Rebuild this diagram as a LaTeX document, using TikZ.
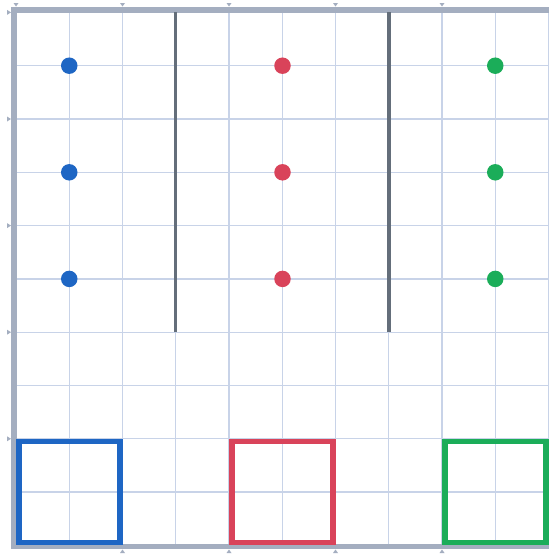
\documentclass[tikz,border=0pt]{standalone}
\usetikzlibrary{calc}
\definecolor{gridC}{HTML}{C8D3E8}
\definecolor{frameC}{HTML}{A4AEC0}
\definecolor{wallC}{HTML}{646E7A}
\definecolor{blueC}{HTML}{1E66C4}
\definecolor{redC}{HTML}{D9435A}
\definecolor{greenC}{HTML}{1BAD59}
\tikzset{
  gridline/.style={draw=gridC, line width=1.3pt},
  framebar/.style={draw=frameC, line width=6pt},
  tickmark/.style={fill=frameC, draw=none},
  wall/.style={draw=wallC, line width=3.3pt},
  dot/.style={circle, minimum size=16.5pt, inner sep=0pt, draw=none},
  goalbox/.style={line width=5.5pt}
}
\begin{document}
\begin{tikzpicture}[x=1pt,y=-1pt]
\useasboundingbox (0,0) rectangle (549,554);
\fill[white] (0,0) rectangle (549,554);
% grid
\foreach \i in {1,...,10} {
  \draw[gridline] ({16+53.25*\i},12.4) -- ({16+53.25*\i},545.4);
  \draw[gridline] (16,{12.4+53.3*\i}) -- (548.5,{12.4+53.3*\i});
}
% frame
\draw[framebar] (11,9.7) -- (549,9.7);
\draw[framebar] (14,6.7) -- (14,549);
\draw[framebar, line width=5pt] (11,546.5) -- (549,546.5);
% ticks
\foreach \xx in {16,122.5,229,335.5,442} {
  \fill[tickmark] ({\xx-2.5},3) -- ({\xx+2.5},3) -- (\xx,6.5) -- cycle;
}
\foreach \xx in {122.5,229,335.5,442} {
  \fill[tickmark] ({\xx-2.5},553) -- ({\xx+2.5},553) -- (\xx,549.5) -- cycle;
}
\foreach \yy in {12.4,119,225.6,332.2,438.8} {
  \fill[tickmark] (7,{\yy-2.5}) -- (7,{\yy+2.5}) -- (11,\yy) -- cycle;
}
% walls
\coordinate (w1t) at (175.75,12.4);
\coordinate (w1b) at (175.75,332.2);
\coordinate (w2t) at (389,12.4);
\coordinate (w2b) at (389,332.2);
\draw[wall] (w1t) -- (w1b);
\draw[wall] (w2t) -- (w2b);
% dots
\node[dot, fill=blueC] (b1) at (69.25,65.7) {};
\node[dot, fill=blueC] (b2) at (69.25,172.3) {};
\node[dot, fill=blueC] (b3) at (69.25,278.9) {};
\node[dot, fill=redC] (r1) at (282.5,65.7) {};
\node[dot, fill=redC] (r2) at (282.5,172.3) {};
\node[dot, fill=redC] (r3) at (282.5,278.9) {};
\node[dot, fill=greenC] (g1) at (495.25,65.7) {};
\node[dot, fill=greenC] (g2) at (495.25,172.3) {};
\node[dot, fill=greenC] (g3) at (495.25,278.9) {};
% goal boxes
\draw[goalbox, blueC] (18.75,441.55) rectangle (119.75,542.65);
\draw[goalbox, redC] (231.75,441.55) rectangle (332.75,542.65);
\draw[goalbox, greenC] (444.75,441.55) rectangle (545.75,542.65);
\end{tikzpicture}
\end{document}
